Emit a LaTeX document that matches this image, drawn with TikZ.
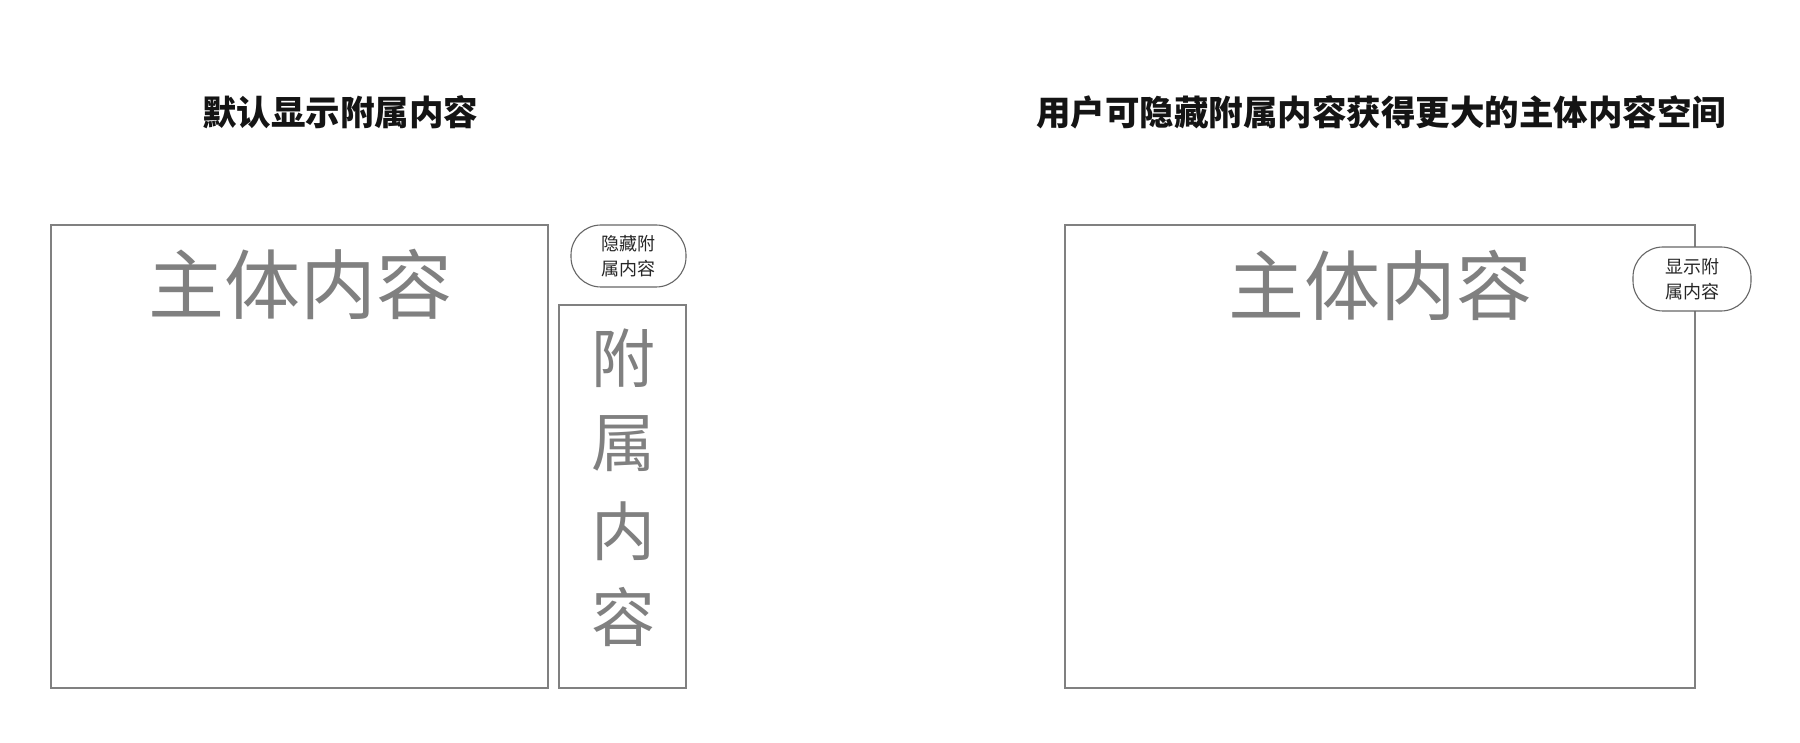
\documentclass[tikz,border=0pt]{standalone}
\usepackage{fontspec}
\newfontfamily\cjk{Noto Sans CJK SC}
\newfontfamily\cjkheavy{Noto Sans CJK SC Black}
\begin{document}
\begin{tikzpicture}[x=1pt,y=-1pt,
  box/.style={draw=black!50,line width=1.3pt},
  pill/.style={draw=black!60,line width=1.1pt,rounded corners=30pt},
  bigtxt/.style={text=black!50,font=\cjk\fontsize{76}{80}\selectfont,inner sep=0pt},
  sidetxt/.style={text=black!50,font=\cjk\fontsize{64}{68}\selectfont,inner sep=0pt},
  btntxt/.style={text=black!85,font=\cjk\fontsize{18}{25}\selectfont,align=center,inner sep=0pt},
  title/.style={text=black!92,font=\cjkheavy\fontsize{34.5}{38}\selectfont,inner sep=0pt}]
\useasboundingbox[fill=white] (0,0) rectangle (1800,743);
% titles
\node[title] (t1) at (340,112) {默认显示附属内容};
\node[title] (t2) at (1381,112) {用户可隐藏附属内容获得更大的主体内容空间};
% left panel
\draw[box] (51,225) rectangle (548,688);
\node[bigtxt] (m1) at (300,284) {主体内容};
\draw[box] (559,305) rectangle (686,688);
\node[sidetxt] (s1) at (623,358) {附};
\node[sidetxt] (s2) at (623,444) {属};
\node[sidetxt] (s3) at (623,531) {内};
\node[sidetxt] (s4) at (623,617) {容};
\draw[pill,fill=white] (571,225) rectangle (686,287);
\node[btntxt] (b1) at (628.5,256) {隐藏附\\属内容};
% right panel
\draw[box] (1065,225) rectangle (1695,688);
\node[bigtxt] (m2) at (1380,285) {主体内容};
\draw[pill,fill=white] (1633,247) rectangle (1751,311);
\node[btntxt] (b2) at (1692,279) {显示附\\属内容};
\end{tikzpicture}
\end{document}
